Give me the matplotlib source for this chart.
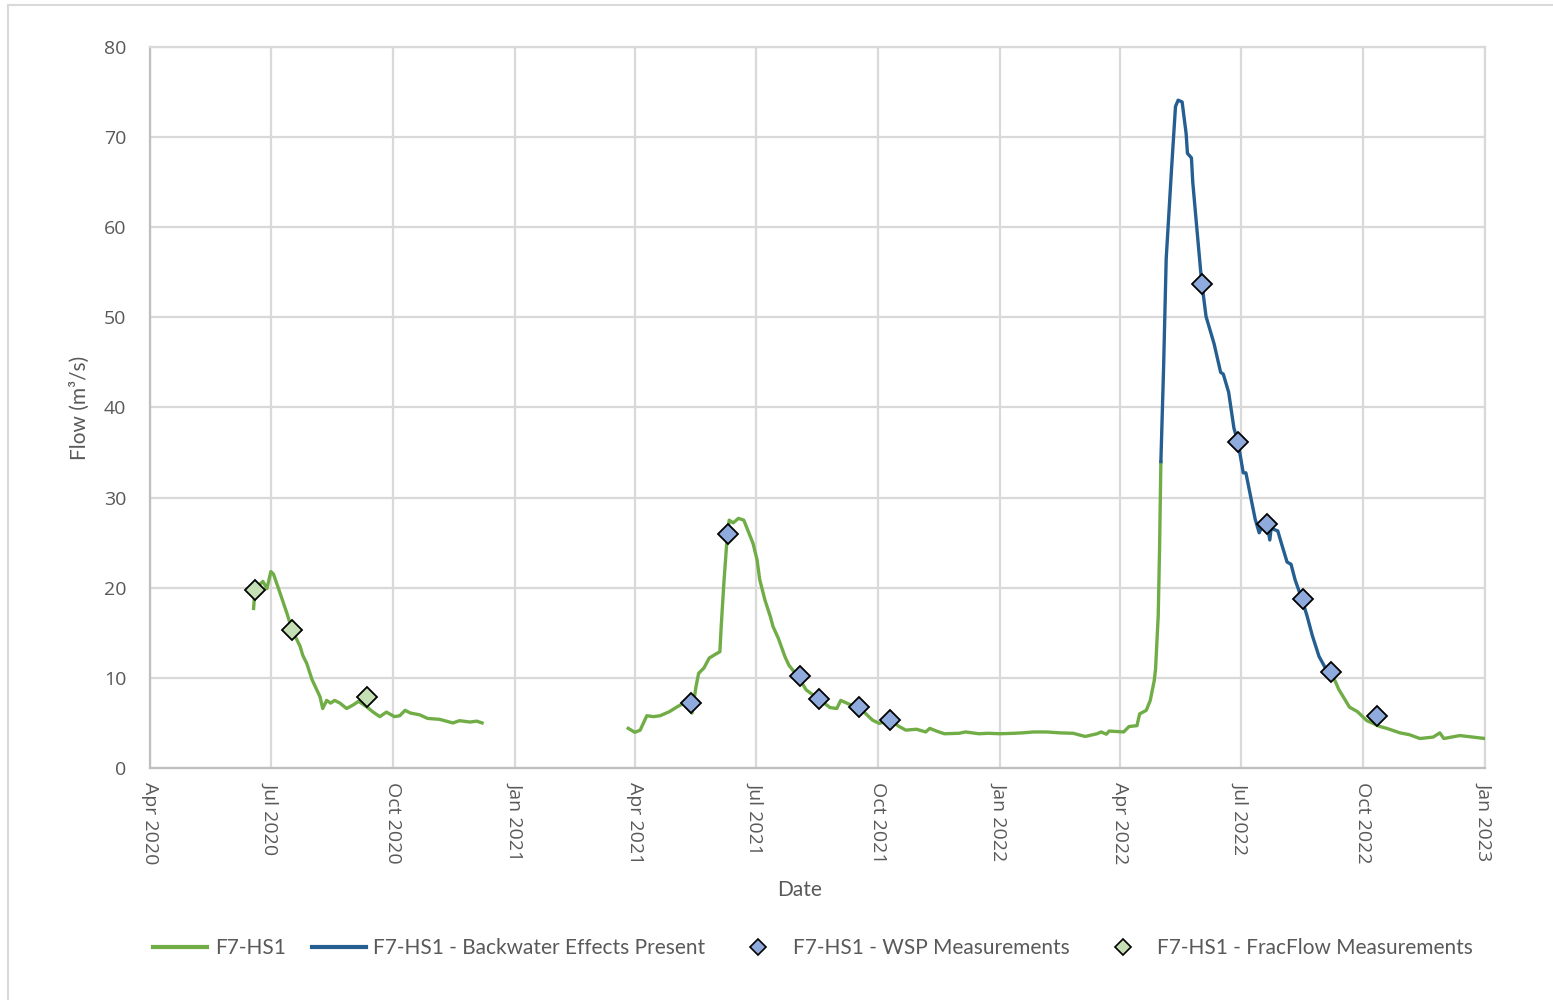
import matplotlib
matplotlib.use("Agg")
import matplotlib.pyplot as plt
import matplotlib.dates as mdates
from matplotlib.lines import Line2D
import numpy as np
import pandas as pd

# ---------------- data ----------------
flow_dates = [
    "2020-06-18", "2020-06-19", "2020-06-22", "2020-06-25", "2020-06-28", "2020-07-01",
    "2020-07-03", "2020-07-07", "2020-07-13", "2020-07-17", "2020-07-23", "2020-07-25",
    "2020-07-28", "2020-08-01", "2020-08-07", "2020-08-09", "2020-08-12", "2020-08-15",
    "2020-08-18", "2020-08-22", "2020-08-27", "2020-09-01", "2020-09-05", "2020-09-11",
    "2020-09-16", "2020-09-21", "2020-09-26", "2020-10-02", "2020-10-06", "2020-10-10",
    "2020-10-14", "2020-10-21", "2020-10-27", "2020-11-05", "2020-11-15", "2020-11-20",
    "2020-11-28", "2020-12-03", "2020-12-07",
    "2021-01-01",
    "2021-03-27", "2021-04-01", "2021-04-05", "2021-04-10", "2021-04-15", "2021-04-20",
    "2021-04-27", "2021-05-03", "2021-05-08", "2021-05-14", "2021-05-17", "2021-05-19",
    "2021-05-23", "2021-05-27", "2021-06-01", "2021-06-04", "2021-06-05", "2021-06-07",
    "2021-06-09", "2021-06-11", "2021-06-14", "2021-06-18", "2021-06-22", "2021-06-25",
    "2021-06-29", "2021-07-02", "2021-07-04", "2021-07-08", "2021-07-12", "2021-07-14",
    "2021-07-18", "2021-07-23", "2021-07-26", "2021-08-02", "2021-08-08", "2021-08-18",
    "2021-08-26", "2021-08-31", "2021-09-03", "2021-09-09", "2021-09-17", "2021-09-27",
    "2021-10-02", "2021-10-10", "2021-10-14", "2021-10-17", "2021-10-22", "2021-10-30",
    "2021-11-06", "2021-11-09", "2021-11-14", "2021-11-20", "2021-12-01", "2021-12-06",
    "2021-12-16", "2021-12-23", "2022-01-01", "2022-01-11", "2022-01-18", "2022-01-26",
    "2022-02-05", "2022-02-15", "2022-02-25", "2022-03-06", "2022-03-15", "2022-03-18",
    "2022-03-22", "2022-03-24", "2022-04-04", "2022-04-08", "2022-04-14", "2022-04-16",
    "2022-04-21", "2022-04-24", "2022-04-27", "2022-04-28", "2022-04-30", "2022-05-01",
    "2022-05-02",
    "2022-06-01",
    "2022-09-07", "2022-09-13", "2022-09-21", "2022-09-27", "2022-10-04", "2022-10-14",
    "2022-10-19", "2022-10-29", "2022-11-05", "2022-11-13", "2022-11-23", "2022-11-28",
    "2022-12-01", "2022-12-13", "2022-12-23", "2023-01-01",
]
flow_values = [
    17.7, 19.8, 20.3, 20.7, 19.9, 21.8,
    21.5, 19.8, 17.2, 15.3, 13.5, 12.5,
    11.6, 9.8, 7.9, 6.6, 7.5, 7.2,
    7.5, 7.2, 6.6, 7.0, 7.4, 6.8,
    6.2, 5.7, 6.2, 5.7, 5.8, 6.4,
    6.1, 5.9, 5.5, 5.4, 5.0, 5.25,
    5.1, 5.2, 5.0,
    None,
    4.4, 3.96, 4.2, 5.8, 5.7, 5.8,
    6.25, 6.8, 7.2, 6.1, 9.0, 10.5,
    11.1, 12.2, 12.65, 12.9, 15.7, 20.5,
    24.6, 27.5, 27.2, 27.7, 27.5, 26.4,
    24.9, 23.1, 20.9, 18.6, 16.8, 15.7,
    14.4, 12.35, 11.4, 10.1, 8.66, 7.6,
    6.7, 6.6, 7.5, 7.1, 6.7, 5.3,
    4.95, 5.3, 4.9, 4.6, 4.2, 4.3,
    4.0, 4.4, 4.1, 3.8, 3.85, 4.0,
    3.8, 3.85, 3.8, 3.85, 3.9, 4.0,
    4.0, 3.9, 3.85, 3.5, 3.8, 4.0,
    3.75, 4.1, 4.0, 4.6, 4.7, 6.0,
    6.4, 7.5, 9.7, 11.0, 16.9, 24.3,
    34.0,
    None,
    10.7, 8.7, 6.75, 6.25, 5.26, 4.6,
    4.4, 3.9, 3.7, 3.27, 3.43, 3.9,
    3.27, 3.6, 3.43, 3.27,
]

backwater_dates = [
    "2022-05-02", "2022-05-04", "2022-05-06", "2022-05-10", "2022-05-13", "2022-05-15",
    "2022-05-18", "2022-05-21", "2022-05-22", "2022-05-25", "2022-05-26", "2022-05-29",
    "2022-06-01", "2022-06-02", "2022-06-05", "2022-06-07", "2022-06-11", "2022-06-16",
    "2022-06-18", "2022-06-22", "2022-06-26", "2022-06-29", "2022-07-03", "2022-07-05",
    "2022-07-09", "2022-07-12", "2022-07-15", "2022-07-19", "2022-07-21", "2022-07-23",
    "2022-07-24", "2022-07-29", "2022-08-01", "2022-08-05", "2022-08-08", "2022-08-11",
    "2022-08-16", "2022-08-20", "2022-08-24", "2022-08-29", "2022-09-03", "2022-09-07",
]
backwater_values = [
    34.0, 44.2, 56.5, 66.4, 73.4, 74.1,
    73.9, 70.4, 68.2, 67.7, 65.0, 60.0,
    55.05, 53.6, 50.1, 49.1, 47.1, 43.9,
    43.7, 41.7, 37.7, 36.2, 32.75, 32.75,
    29.8, 27.6, 26.1, 27.3, 27.0, 25.3,
    26.6, 26.3, 24.8, 22.85, 22.6, 20.9,
    18.8, 16.9, 14.7, 12.4, 11.05, 10.7,
]

wsp_dates = [
    "2021-05-13", "2021-06-10", "2021-08-03", "2021-08-18", "2021-09-17", "2021-10-10",
    "2022-06-02", "2022-06-29", "2022-07-21", "2022-08-17", "2022-09-07", "2022-10-12",
]
wsp_values = [7.2, 26.0, 10.2, 7.7, 6.8, 5.3, 53.7, 36.2, 27.1, 18.8, 10.7, 5.8]

frac_dates = ["2020-06-19", "2020-07-17", "2020-09-11"]
frac_values = [19.7, 15.3, 7.9]

tick_dates = ["2020-04-01", "2020-07-01", "2020-10-01", "2021-01-01", "2021-04-01",
              "2021-07-01", "2021-10-01", "2022-01-01", "2022-04-01", "2022-07-01",
              "2022-10-01", "2023-01-01"]
y_ticks = [0, 10, 20, 30, 40, 50, 60, 70, 80]

labels = ["F7-HS1", "F7-HS1 - Backwater Effects Present",
          "F7-HS1 - WSP Measurements", "F7-HS1 - FracFlow Measurements"]

# ---------------- styles ----------------
GREEN = "#70AD47"
BLUE = "#255E91"
WSP_FILL = "#8FAADC"
FRAC_FILL = "#C5E0B4"
GRID = "#D9D9D9"
TEXT = "#595959"

fig = plt.figure(figsize=(15.53, 10.0), dpi=100)
ax = fig.add_axes([150 / 1553, 1 - 768 / 1000, (1485 - 150) / 1553, (768 - 47) / 1000])

fd = pd.to_datetime(flow_dates)
fv = np.array([np.nan if v is None else v for v in flow_values], dtype=float)
ax.plot(fd, fv, color=GREEN, lw=2.4, zorder=3, solid_joinstyle="round")
ax.plot(pd.to_datetime(backwater_dates), backwater_values, color=BLUE, lw=2.4, zorder=4,
        solid_joinstyle="round")
ax.plot(pd.to_datetime(wsp_dates), wsp_values, ls="none", marker="D", ms=10,
        mfc=WSP_FILL, mec="black", mew=1.3, zorder=5)
ax.plot(pd.to_datetime(frac_dates), frac_values, ls="none", marker="D", ms=10,
        mfc=FRAC_FILL, mec="black", mew=1.3, zorder=5)

td = pd.to_datetime(tick_dates)
ax.set_xlim(td[0], td[-1])
ax.set_ylim(0, 80)
ax.set_xticks(td)
ax.set_xticklabels([d.strftime("%b %Y") for d in td], rotation=-90,
                   fontsize=14, color=TEXT, family=["Open Sans", "DejaVu Sans"])
ax.set_yticks(y_ticks)
ax.set_yticklabels([str(v) for v in y_ticks], fontsize=14, color=TEXT,
                   family=["Open Sans", "DejaVu Sans"])
ax.tick_params(axis="x", length=0, pad=10)
ax.tick_params(axis="y", length=0, pad=17)
ax.grid(True, color=GRID, lw=1.6, zorder=0)
ax.set_axisbelow(True)
for s in ax.spines.values():
    s.set_color(GRID)
    s.set_linewidth(1.6)
ax.spines["left"].set_color("#BFBFBF")
ax.spines["bottom"].set_color("#BFBFBF")

fig.text(800 / 1553, 1 - 890 / 1000, "Date", ha="center", va="center", fontsize=15,
         color=TEXT, family=["Lato", "DejaVu Sans"])
fig.text(80 / 1553, 1 - 408 / 1000, "Flow (m³/s)", ha="center", va="center", fontsize=15,
         color=TEXT, rotation=90, family=["Lato", "DejaVu Sans"])

handles = [
    Line2D([], [], color=GREEN, lw=3),
    Line2D([], [], color=BLUE, lw=3),
    Line2D([], [], ls="none", marker="D", ms=8, mfc=WSP_FILL, mec="black", mew=1.2),
    Line2D([], [], ls="none", marker="D", ms=8, mfc=FRAC_FILL, mec="black", mew=1.2),
]
leg = fig.legend(handles, labels, loc="center", bbox_to_anchor=(813 / 1553, 1 - 948 / 1000),
                 ncol=4, frameon=False, handlelength=2.6, handletextpad=0.35,
                 columnspacing=1.25, prop={"family": ["Lato", "DejaVu Sans"], "size": 15})
for t in leg.get_texts():
    t.set_color(TEXT)

# chart area border (top and left visible)
fig.add_artist(Line2D([8 / 1553, 1.0], [1 - 5 / 1000, 1 - 5 / 1000], color=GRID, lw=1.5,
                      transform=fig.transFigure))
fig.add_artist(Line2D([8 / 1553, 8 / 1553], [0.0, 1 - 5 / 1000], color=GRID, lw=1.5,
                      transform=fig.transFigure))

fig.savefig("out.png", dpi=100)
